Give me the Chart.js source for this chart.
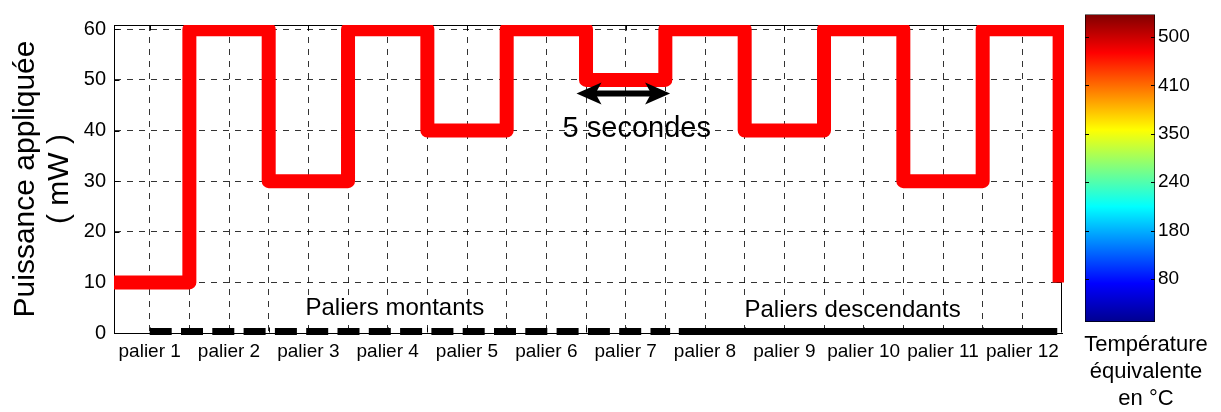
<!DOCTYPE html>
<html>
<head>
<meta charset="utf-8">
<script src="https://cdn.jsdelivr.net/npm/chart.js@4.4.0/dist/chart.umd.min.js"></script>
<style>
  html, body { margin: 0; padding: 0; background: #fff; overflow: hidden; }
  #wrap { position: relative; width: 1221px; height: 412px; }
  #mainChart { position: absolute; left: 0; top: 0; }
  #barChart { position: absolute; left: 1072px; top: 0; }
</style>
</head>
<body>
<div id="wrap">
  <canvas id="mainChart" width="1072" height="412"></canvas>
  <canvas id="barChart" width="149" height="412"></canvas>
</div>
<script>
var paliers = ['palier 1', 'palier 2', 'palier 3', 'palier 4', 'palier 5', 'palier 6',
  'palier 7', 'palier 8', 'palier 9', 'palier 10', 'palier 11', 'palier 12'];
var powerTicks = [0, 10, 20, 30, 40, 50, 60];

// applied power: x where each level starts (in paliers), and the level held from there
var stepTimes = [0.55, 1.5, 2.5, 3.5, 4.5, 5.5, 6.5, 7.5, 8.5, 9.5, 10.5, 11.5, 12.47];
var stepPower = [10, 60, 30, 60, 40, 60, 50, 60, 40, 60, 30, 60, 10];

// black trace along the bottom (dashed then solid)
var baseDashedX = [1.0, 7.56];
var baseSolidX = [7.67, 12.44];
var baseLevel = 0.3;

// colour bar labels (evenly spaced)
var tempTicks = [80, 180, 240, 350, 410, 500];

Chart.defaults.font.family = "'Liberation Sans', Arial, sans-serif";
Chart.defaults.color = '#000';

var FONT = "'Liberation Sans', Arial, sans-serif";

// grid positions every half palier
var gridX = [];
paliers.forEach(function (p, i) {
  gridX.push(i + 1);
  if (i < paliers.length - 1) gridX.push(i + 1.5);
});

var frame = {
  id: 'frame',
  beforeDatasetsDraw: function (chart) {
    var a = chart.chartArea, c = chart.ctx;
    var l = Math.round(a.left) + 0.5, t = Math.round(a.top) + 0.5;
    var r = Math.round(a.right) - 0.5, b = Math.round(a.bottom) - 0.5;
    c.save();
    c.strokeStyle = '#000';
    c.lineWidth = 1;
    c.beginPath();
    c.moveTo(l, t); c.lineTo(r, t); c.lineTo(r, b);
    c.stroke();
    // small inward ticks
    c.beginPath();
    powerTicks.forEach(function (v) {
      var py = Math.round(chart.scales.y.getPixelForValue(v)) + 0.5;
      c.moveTo(l, py); c.lineTo(l + 5, py);
      c.moveTo(r, py); c.lineTo(r - 5, py);
    });
    gridX.forEach(function (v) {
      var px = Math.round(chart.scales.x.getPixelForValue(v)) + 0.5;
      c.moveTo(px, t); c.lineTo(px, t + 5);
      c.moveTo(px, b); c.lineTo(px, b - 5);
    });
    c.stroke();
    c.restore();
  }
};

function arrowHead(c, tx, ty, d) {
  c.beginPath();
  c.moveTo(tx, ty);
  c.lineTo(tx - d * 25, ty - 11);
  c.lineTo(tx - d * 19, ty);
  c.lineTo(tx - d * 25, ty + 11);
  c.closePath();
  c.fill();
}

function boxedText(c, text, px, py) {
  var w = c.measureText(text).width;
  c.fillStyle = '#fff';
  c.fillRect(px - w / 2 - 2, py - 12, w + 4, 24);
  c.fillStyle = '#000';
  c.fillText(text, px, py);
}

var notes = {
  id: 'notes',
  beforeDraw: function (chart) {
    // drawn under the grid, like the reference
    var x = chart.scales.x, y = chart.scales.y, c = chart.ctx;
    c.save();
    c.font = '29px ' + FONT;
    c.fillStyle = '#000';
    c.textAlign = 'center';
    c.textBaseline = 'middle';
    c.fillText('5 secondes', x.getPixelForValue(7.14), y.getPixelForValue(40.3));
    c.restore();
  },
  afterDatasetsDraw: function (chart) {
    var x = chart.scales.x, y = chart.scales.y, c = chart.ctx;
    c.save();
    c.font = '24px ' + FONT;
    c.textAlign = 'center';
    c.textBaseline = 'middle';
    boxedText(c, 'Paliers montants', x.getPixelForValue(4.09), y.getPixelForValue(4.93));
    boxedText(c, 'Paliers descendants', x.getPixelForValue(9.86), y.getPixelForValue(4.5));

    // double arrow for one palier duration
    var x1 = x.getPixelForValue(6.38), x2 = x.getPixelForValue(7.56), ay = y.getPixelForValue(47.3);
    c.strokeStyle = '#000';
    c.fillStyle = '#000';
    c.lineWidth = 6;
    c.beginPath();
    c.moveTo(x1 + 18, ay);
    c.lineTo(x2 - 18, ay);
    c.stroke();
    arrowHead(c, x1, ay, -1);
    arrowHead(c, x2, ay, 1);
    c.restore();
  }
};

new Chart(document.getElementById('mainChart'), {
  type: 'line',
  data: {
    datasets: [{
      data: stepTimes.map(function (t, i) { return { x: t, y: stepPower[i] }; }),
      borderColor: '#ff0000',
      borderWidth: 14,
      stepped: 'before',
      borderJoinStyle: 'round',
      pointRadius: 0,
      fill: false,
      clip: { left: 0, top: 0, right: 2, bottom: 0 }
    }, {
      data: baseDashedX.map(function (t) { return { x: t, y: baseLevel }; }),
      borderColor: '#000',
      borderWidth: 7,
      borderDash: [22, 9.3],
      borderCapStyle: 'butt',
      pointRadius: 0,
      fill: false,
      clip: false
    }, {
      data: baseSolidX.map(function (t) { return { x: t, y: baseLevel }; }),
      borderColor: '#000',
      borderWidth: 7,
      borderCapStyle: 'butt',
      pointRadius: 0,
      fill: false,
      clip: false
    }]
  },
  options: {
    responsive: false,
    animation: false,
    layout: { padding: { top: 25, right: 10, left: 0, bottom: 0 } },
    plugins: { legend: { display: false }, tooltip: { enabled: false } },
    scales: {
      x: {
        type: 'linear',
        min: 0.55,
        max: 12.5,
        afterBuildTicks: function (s) { s.ticks = gridX.map(function (v) { return { value: v }; }); },
        afterFit: function (s) { s.height = 79; },
        ticks: {
          autoSkip: false,
          maxRotation: 0,
          minRotation: 0,
          padding: 7,
          font: { size: 19 },
          callback: function (v) { return Number.isInteger(v) ? paliers[v - 1] : ''; }
        },
        grid: { color: 'rgba(0,0,0,0.8)', drawTicks: false, lineWidth: 1 },
        border: { color: '#000', dash: [6, 6] }
      },
      y: {
        min: 0,
        max: 60.85,
        afterBuildTicks: function (s) { s.ticks = powerTicks.map(function (v) { return { value: v }; }); },
        afterFit: function (s) { s.width = 114; },
        ticks: { font: { size: 20 }, padding: 8 },
        grid: { color: 'rgba(0,0,0,0.8)', drawTicks: false, lineWidth: 1 },
        border: { color: '#000', dash: [6, 6] },
        title: {
          display: true,
          text: ['Puissance appliquée', '( mW )'],
          font: { size: 30, lineHeight: 1.13 },
          padding: { top: 9, bottom: 0 }
        }
      }
    }
  },
  plugins: [frame, notes]
});

// colour bar (jet)
function jetFill(context) {
  var area = context.chart.chartArea;
  if (!area) return null;
  var g = context.chart.ctx.createLinearGradient(0, area.bottom, 0, area.top);
  g.addColorStop(0, '#00008f');
  g.addColorStop(0.125, '#0000ff');
  g.addColorStop(0.375, '#00ffff');
  g.addColorStop(0.625, '#ffff00');
  g.addColorStop(0.875, '#ff0000');
  g.addColorStop(1, '#800000');
  return g;
}

var barTicks = tempTicks.map(function (v, i) { return i; });

var barDeco = {
  id: 'barDeco',
  afterDatasetsDraw: function (chart) {
    var a = chart.chartArea, c = chart.ctx, y = chart.scales.y;
    c.save();
    c.strokeStyle = '#000';
    c.lineWidth = 1;
    c.beginPath();
    barTicks.forEach(function (v) {
      var py = Math.round(y.getPixelForValue(v)) + 0.5;
      c.moveTo(a.left, py); c.lineTo(a.left + 4, py);
      c.moveTo(a.right, py); c.lineTo(a.right - 4, py);
    });
    c.stroke();
    c.font = '22px ' + FONT;
    c.fillStyle = '#000';
    c.textAlign = 'center';
    c.textBaseline = 'middle';
    ['Température', 'équivalente', 'en °C'].forEach(function (line, i) {
      c.fillText(line, 74, 345 + i * 27);
    });
    c.restore();
  }
};

new Chart(document.getElementById('barChart'), {
  type: 'bar',
  data: {
    labels: [''],
    datasets: [{
      data: [[-0.89, 5.47]],
      backgroundColor: jetFill,
      borderColor: '#000',
      borderWidth: 1,
      borderSkipped: false,
      barPercentage: 1,
      categoryPercentage: 1
    }]
  },
  options: {
    responsive: false,
    animation: false,
    layout: { padding: { left: 13, top: 9, right: 0, bottom: 90 } },
    plugins: { legend: { display: false }, tooltip: { enabled: false } },
    scales: {
      x: { display: false },
      y: {
        position: 'right',
        min: -0.89,
        max: 5.47,
        afterBuildTicks: function (s) { s.ticks = barTicks.map(function (v) { return { value: v }; }); },
        afterFit: function (s) { s.width = 66; },
        ticks: {
          font: { size: 19 },
          padding: 3,
          callback: function (v) { return tempTicks[v]; }
        },
        grid: { display: false, drawTicks: false },
        border: { display: false }
      }
    }
  },
  plugins: [barDeco]
});
</script>
</body>
</html>
